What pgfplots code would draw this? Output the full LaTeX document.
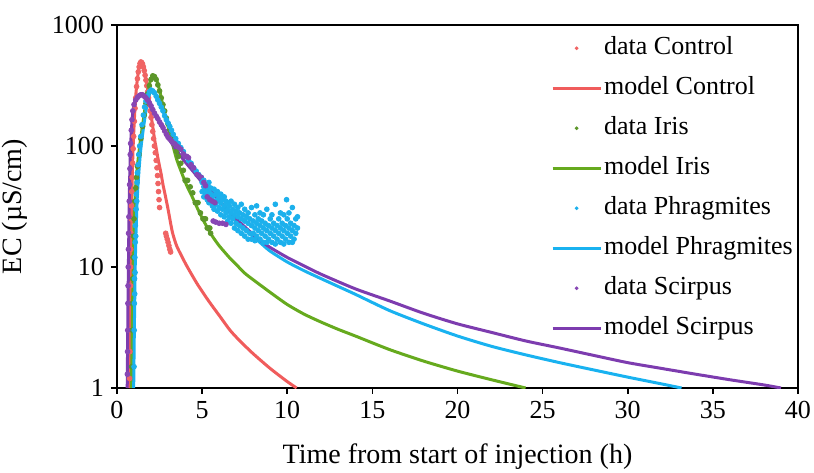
\documentclass[border=0pt]{standalone}
\usepackage{fontspec}
\setmainfont{Liberation Serif}
\usepackage{pgfplots}
\pgfplotsset{compat=1.18}

\definecolor{cred}{RGB}{240,92,92}
\definecolor{cgreen}{RGB}{102,170,30}
\definecolor{cblue}{RGB}{25,178,240}
\definecolor{cpurple}{RGB}{125,60,175}
\definecolor{dred}{RGB}{240,100,100}
\definecolor{dgreen}{RGB}{92,150,42}
\definecolor{dblue}{RGB}{28,176,236}
\definecolor{dpurple}{RGB}{135,70,180}

\pgfplotsset{
  model/.style={line width=1.5pt, no marks, smooth, tension=0.4},
  data/.style={only marks, mark=*, mark size=1.2pt, mark options={draw=none},
    legend image code/.code={\fill[##1] (12pt,0pt) circle (0.7pt);}},
}

\begin{document}
\begin{tikzpicture}
\useasboundingbox (-58.5pt,-42pt) rectangle (348.5pt,194pt);
\begin{axis}[
  scale only axis, width=340.5pt, height=181.5pt,
  at={(0,0)}, anchor=south west,
  ymode=log, xmin=0, xmax=40, ymin=1, ymax=1000,
  xtick={0,5,...,40},
  ytick={1,10,100,1000}, yticklabels={1,10,100,1000},
  yminorticks=false,
  tick align=outside, xtick pos=bottom, ytick pos=left,
  major tick length=3pt,
  axis line style={line width=0.8pt},
  tick style={line width=0.8pt, black},
  /pgf/number format/assume math mode=true,
  tick label style={font=\fontsize{13}{15}\selectfont},
  label style={font=\fontsize{14}{16}\selectfont},
  xlabel={Time from start of injection (h)},
  ylabel={EC (µS/cm)},
  xlabel style={at={(axis description cs:0.5,-0.19)}, anchor=center},
  ylabel style={at={(axis description cs:-0.150,0.5)}, anchor=center},
  legend image code/.code={\draw[#1] (0pt,0pt) -- (24pt,0pt);},
  legend cell align=left,
  legend style={at={(axis description cs:0.637,0.977)}, anchor=north west,
    draw=none, fill=none, inner sep=0pt, row sep=5.5pt,
    font=\fontsize{13}{15}\selectfont,
    nodes={inner sep=1pt, text height=9.5pt, text depth=3pt}},
]

% data Control
\addplot[data, color=dred] coordinates {
(0.74,1.2) (0.76,2) (0.77,3) (0.78,5) (0.79,7) (0.80,10) (0.81,14) (0.82,19)
(0.83,25) (0.85,32) (0.87,42) (0.89,55) (0.92,72) (0.95,95) (0.98,120) (1.02,160)
(1.06,205) (1.10,250) (1.15,310) (1.20,360) (1.25,410) (1.30,450) (1.35,480) (1.40,495)
(1.45,490) (1.50,475) (1.55,450) (1.60,420) (1.65,385) (1.70,350) (1.75,315) (1.80,280)
(1.85,250) (1.90,220) (1.95,195) (2.00,172) (2.05,150) (2.10,132) (2.15,115) (2.20,100)
(2.25,88) (2.30,76) (2.35,66) (2.38,57) (2.41,49) (2.44,42) (2.47,36) (2.50,31)
(2.86,19) (2.90,18) (2.95,17) (3.00,16) (3.05,15) (3.10,14) (3.15,13.3)
};
\addlegendentry{data Control}
% model Control
\addplot[model, color=cred] coordinates {
(0.72,1) (0.74,1.8) (0.76,3) (0.78,5.5) (0.80,10) (0.83,20) (0.86,35) (0.90,60)
(0.95,100) (1.00,145) (1.06,210) (1.12,280) (1.20,360) (1.28,430) (1.36,480) (1.42,495)
(1.48,490) (1.55,460) (1.62,415) (1.70,365) (1.80,295) (1.90,235) (2.00,180) (2.10,145)
(2.20,115) (2.30,96) (2.40,80) (2.50,68) (2.60,58) (2.70,48) (2.82,40) (3.00,30)
(3.25,19.5) (3.50,15) (3.80,12.3) (4.10,10.2) (4.70,7.3) (5.40,5.2) (6.05,3.9) (6.64,3.0)
(7.22,2.45) (8.00,1.92) (9.00,1.45) (10.00,1.13) (10.55,1)
};
\addlegendentry{model Control}

% data Iris
\addplot[data, color=dgreen] coordinates {
(0.86,1.5) (0.88,3) (0.90,5) (0.92,8) (0.94,12) (0.97,18) (1.00,25) (1.05,35)
(1.10,45) (1.15,55) (1.20,68) (1.30,85) (1.40,115) (1.50,145) (1.60,180) (1.70,225)
(1.80,270) (1.90,315) (2.00,355) (2.10,380) (2.20,375) (2.30,355) (2.40,320) (2.50,285)
(2.60,250) (2.70,220) (2.80,195) (2.90,170) (3.00,152) (3.10,135) (3.20,120) (3.35,104)
(3.50,90) (3.60,82) (3.75,72) (3.90,63) (4.00,52) (4.08,52) (4.15,52) (4.30,46)
(4.45,41) (4.60,34) (4.68,34) (4.76,34) (4.90,28) (5.05,25) (5.13,25) (5.20,25)
(5.30,21) (5.38,21) (5.45,21) (5.50,19)
};
\addlegendentry{data Iris}
% model Iris
\addplot[model, color=cgreen] coordinates {
(0.85,1) (0.88,2) (0.91,4) (0.95,10) (0.99,20) (1.04,32) (1.12,52) (1.25,80)
(1.40,118) (1.55,165) (1.70,230) (1.85,300) (1.98,355) (2.10,385) (2.20,380) (2.30,360)
(2.42,320) (2.55,270) (2.70,215) (2.85,175) (3.00,145) (3.20,112) (3.50,78) (3.80,60)
(4.10,47) (4.40,38.5) (4.80,29) (5.20,22.5) (5.60,18) (6.00,15) (6.64,11.8) (7.00,10.5)
(7.50,8.9) (8.00,7.85) (9.00,6.17) (10.00,4.9) (11.00,4.07) (12.00,3.5) (13.00,3.05) (14.00,2.69)
(16.00,2.08) (18.00,1.67) (20.00,1.38) (22.00,1.17) (24.00,1.0)
};
\addlegendentry{model Iris}

% data Phragmites, up to 5 h
\addplot[data, color=dblue] coordinates {
(1.00,1.5) (1.01,3) (1.02,5) (1.03,8) (1.04,6) (1.05,12) (1.06,9) (1.07,16)
(1.08,22) (1.10,18) (1.12,30) (1.14,40) (1.16,35) (1.18,50) (1.20,60) (1.24,70)
(1.28,85) (1.33,100) (1.40,120) (1.47,150) (1.55,180) (1.62,210) (1.70,235) (1.80,260)
(1.90,280) (2.00,290) (2.10,285) (2.20,275) (2.30,258) (2.40,240) (2.50,225) (2.60,210)
(2.70,195) (2.80,178) (2.90,165) (3.00,155) (3.10,145) (3.20,135) (3.30,125) (3.45,115)
(3.60,105) (3.75,97) (3.90,90) (4.05,82) (4.20,76) (4.35,72) (4.50,66) (4.65,62)
(4.80,58) (4.95,55)
};
\addlegendentry{data Phragmites}
% model Phragmites
\addplot[model, color=cblue] coordinates {
(0.98,1) (1.00,1.8) (1.03,4) (1.07,10) (1.12,20) (1.20,40) (1.30,65) (1.40,95)
(1.55,140) (1.70,195) (1.85,250) (1.96,280) (2.05,290) (2.15,285) (2.30,265) (2.50,228)
(2.70,195) (2.92,163) (3.15,138) (3.40,118) (3.65,101) (3.90,87) (4.40,69) (4.87,56)
(5.50,43.5) (6.00,35.5) (6.50,29.5) (7.00,24.5) (7.50,20.5) (8.00,17.8) (8.50,15.5) (9.00,13.5)
(10.00,11) (11.00,9.3) (12.00,8.0) (13.00,6.9) (14.00,5.95) (16.00,4.37) (18.00,3.39) (20.00,2.69)
(22.00,2.21) (24.00,1.88) (26.00,1.62) (28.00,1.41) (30.00,1.23) (32.00,1.08) (33.16,1)
};
\addlegendentry{model Phragmites}

% data Scirpus, up to 5 h
\addplot[data, color=dpurple] coordinates {
(0.61,1.3) (0.62,2) (0.63,3) (0.64,5) (0.65,7) (0.66,10) (0.67,14) (0.68,19)
(0.70,26) (0.72,35) (0.74,48) (0.76,65) (0.78,85) (0.80,105) (0.84,135) (0.88,165)
(0.93,195) (1.00,220) (1.10,240) (1.20,252) (1.30,260) (1.40,265) (1.50,265) (1.60,258)
(1.70,250) (1.80,240) (1.90,228) (2.00,215) (2.10,200) (2.20,187) (2.30,177) (2.40,168)
(2.50,158) (2.60,150) (2.70,142) (2.80,133) (2.90,125) (3.00,118) (3.10,114) (3.20,110)
(3.30,106) (3.40,104) (3.50,100) (3.60,98) (3.75,94) (3.90,86) (4.00,82) (4.10,82)
(4.20,80) (4.35,70) (4.50,66) (4.70,58) (4.80,57) (4.95,55)
};
\addlegendentry{data Scirpus}
% model Scirpus
\addplot[model, color=cpurple] coordinates {
(0.60,1) (0.62,2) (0.64,4) (0.67,10) (0.70,22) (0.74,50) (0.80,100) (0.88,160)
(0.96,205) (1.05,235) (1.20,258) (1.35,268) (1.50,268) (1.65,258) (1.80,242) (2.00,215)
(2.33,175) (2.70,140) (3.20,106) (3.60,88) (4.00,74) (4.50,61) (5.00,50) (5.50,42)
(6.00,35.5) (6.50,29.5) (7.00,25) (7.50,21.5) (8.00,18.6) (8.50,16.3) (9.00,14.5) (10.00,12)
(11.00,10.2) (12.00,8.7) (14.00,6.6) (16.00,5.25) (18.00,4.15) (20.00,3.39) (22.00,2.88) (24.00,2.45)
(26.00,2.14) (28.00,1.86) (30.00,1.62) (32.00,1.45) (34.00,1.3) (36.00,1.17) (38.00,1.06) (39.00,1.0)
};
\addlegendentry{model Scirpus}

% data Phragmites after 5 h (scattered tail)
\addplot[data, color=dblue, forget plot] coordinates {
(5.0,50) (5.0,42) (5.1,46) (5.1,38) (5.1,52) (5.2,44) (5.2,40) (5.3,48) (5.3,36)
(5.4,42) (5.4,34) (5.4,50) (5.5,40) (5.5,45) (5.6,38) (5.6,32) (5.7,44) (5.7,35) (5.7,30)
(5.8,40) (5.8,33) (5.9,36) (5.9,29) (5.9,42) (6.0,38) (6.0,31) (6.1,34) (6.1,27) (6.1,40)
(6.2,36) (6.2,30) (6.3,32) (6.3,26) (6.3,38) (6.4,35) (6.4,28) (6.5,30) (6.5,24) (6.5,34)
(6.6,32) (6.6,26) (6.7,28) (6.7,23) (6.7,35) (6.8,30) (6.8,25) (6.9,27) (6.9,21) (6.9,33)
(7.0,29) (7.0,23) (7.1,26) (7.1,20) (7.1,31) (7.2,28) (7.2,22) (7.3,25) (7.3,19) (7.3,33)
(7.4,27) (7.4,21) (7.5,24) (7.5,18) (7.5,30) (7.6,26) (7.6,20) (7.7,23) (7.7,17) (7.7,28)
(7.8,25) (7.8,19) (7.9,22) (7.9,17) (7.9,31) (8.0,24) (8.0,19) (8.1,21) (8.1,16.5) (8.1,27)
(8.2,23) (8.2,18) (8.2,32) (8.3,20) (8.3,25) (8.4,22) (8.4,17) (8.4,28) (8.5,19) (8.5,24)
(8.6,21) (8.6,16) (8.6,27) (8.7,23) (8.7,18) (8.8,20) (8.8,30) (8.8,16) (8.9,22) (8.9,17)
(9.0,19) (9.0,25) (9.1,21) (9.1,16) (9.1,27) (9.2,18) (9.2,23) (9.3,20) (9.3,15.5) (9.3,33)
(9.4,22) (9.4,17) (9.5,19) (9.5,25) (9.6,21) (9.6,16) (9.6,28) (9.7,18) (9.7,23) (9.8,20)
(9.8,15.5) (9.8,27) (9.9,22) (9.9,17) (9.96,36) (10.0,19) (10.0,25) (10.1,21) (10.1,16) (10.1,28)
(10.2,18) (10.2,23) (10.3,20) (10.3,31) (10.3,16) (10.4,22) (10.4,17) (10.5,19) (10.5,25)
(10.6,21) (10.6,26)
};
% data Scirpus after 5 h
\addplot[data, color=dpurple, forget plot] coordinates {
(5.10,50) (5.20,47) (5.30,38) (5.45,36) (5.60,35) (5.75,34) (5.65,24) (5.80,23.5)
(6.00,23) (6.20,23) (6.40,22.5)
};
\end{axis}
\end{tikzpicture}
\end{document}
